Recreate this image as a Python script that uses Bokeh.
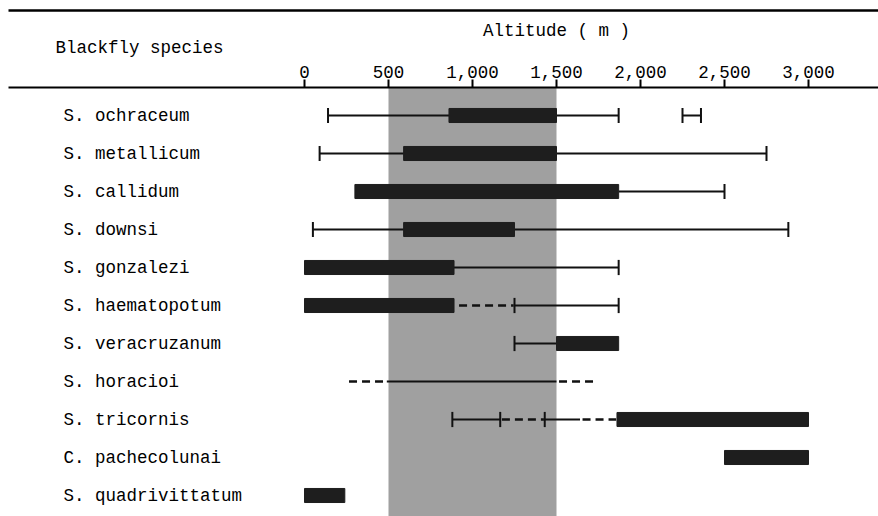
from bokeh.plotting import figure
from bokeh.models import Range1d, BoxAnnotation
from bokeh.core.properties import value
from bokeh.embed import file_html
from bokeh.resources import INLINE

# ---------------- data ----------------
SPECIES = ["S. ochraceum", "S. metallicum", "S. callidum", "S. downsi",
           "S. gonzalezi", "S. haematopotum", "S. veracruzanum", "S. horacioi",
           "S. tricornis", "C. pachecolunai", "S. quadrivittatum"]

TICKS = [0, 500, 1000, 1500, 2000, 2500, 3000]
TICK_LABELS = ["0", "500", "1,000", "1,500", "2,000", "2,500", "3,000"]

ZONE_START = 500
ZONE_END = 1500

# thick bars (main altitude range)
BAR_SPECIES = ["S. ochraceum", "S. metallicum", "S. callidum", "S. downsi",
               "S. gonzalezi", "S. haematopotum", "S. veracruzanum",
               "S. tricornis", "C. pachecolunai", "S. quadrivittatum"]
BAR_START = [860, 590, 300, 590, 0, 0, 1500, 1860, 2500, 0]
BAR_END = [1500, 1500, 1870, 1250, 890, 890, 1870, 3000, 3000, 240]

# thin solid lines
SOLID_SPECIES = ["S. ochraceum", "S. ochraceum", "S. metallicum", "S. callidum",
                 "S. downsi", "S. gonzalezi", "S. haematopotum", "S. veracruzanum",
                 "S. horacioi", "S. tricornis", "S. tricornis"]
SOLID_START = [140, 2250, 90, 1870, 50, 890, 1250, 1250, 490, 880, 1430]
SOLID_END = [1870, 2360, 2750, 2500, 2880, 1870, 1870, 1500, 1500, 1165, 1640]

# dashed lines
DASH_SPECIES = ["S. haematopotum", "S. horacioi", "S. horacioi",
                "S. tricornis", "S. tricornis"]
DASH_START = [920, 265, 1515, 1175, 1655]
DASH_END = [1245, 480, 1720, 1425, 1855]

# end caps
CAP_SPECIES = ["S. ochraceum", "S. ochraceum", "S. ochraceum", "S. ochraceum",
               "S. metallicum", "S. metallicum", "S. callidum", "S. downsi",
               "S. downsi", "S. gonzalezi", "S. haematopotum", "S. haematopotum",
               "S. veracruzanum", "S. tricornis", "S. tricornis", "S. tricornis"]
CAP_X = [140, 1870, 2250, 2360, 90, 2750, 2500, 50, 2880, 1870, 1250, 1870,
         1250, 880, 1165, 1430]

HEADER_LEFT = "Blackfly species"
HEADER_AXIS = "Altitude ( m )"

# ---------------- layout (pixels) ----------------
FONT = "Liberation Mono"
FS = "17.5px"
W, H = 878, 516
PX_PER_M = 0.168
ZERO_PX = 304          # pixel x of altitude 0
ROW0_PX = 115          # pixel y of first row
ROW_PX = 38            # row spacing


def mx(px):            # pixel x -> altitude units
    return (px - ZERO_PX) / PX_PER_M


def ry(py):            # pixel y -> row units
    return (py - ROW0_PX) / ROW_PX


p = figure(width=W, height=H, output_backend="svg", toolbar_location=None,
           x_range=Range1d(mx(0), mx(W)), y_range=Range1d(ry(H), ry(0)),
           x_axis_location=None, y_axis_location=None,
           min_border_left=0, min_border_right=0, min_border_top=0,
           min_border_bottom=0)
for g in p.grid:
    g.visible = False
p.outline_line_color = None
p.background_fill_color = "white"
p.border_fill_color = "white"

idx = {s: i for i, s in enumerate(SPECIES)}

RULE_TOP = ry(10)
RULE_AXIS = ry(87)

# shaded altitude zone (below header rule)
p.add_layout(BoxAnnotation(left=ZONE_START, right=ZONE_END, top=RULE_AXIS,
                           fill_color="#a0a0a0", fill_alpha=1.0,
                           line_color=None, level="underlay"))

# header rules
p.segment(x0=[mx(8), mx(8)], y0=[RULE_TOP, RULE_AXIS],
          x1=[mx(W), mx(W)], y1=[RULE_TOP, RULE_AXIS],
          line_color="black", line_width=[2.5, 2.2])

# axis ticks (upwards from the rule) and tick labels
p.segment(x0=TICKS, y0=[RULE_AXIS] * len(TICKS), x1=TICKS,
          y1=[ry(79)] * len(TICKS), line_color="black", line_width=2)
p.text(x=TICKS, y=[ry(71)] * len(TICKS), text=TICK_LABELS,
       text_font=value(FONT), text_font_size=FS, text_align="center",
       text_baseline="middle", text_color="black")

# header texts
p.text(x=[(TICKS[0] + TICKS[-1]) / 2], y=[ry(30)], text=[HEADER_AXIS],
       text_font=value(FONT), text_font_size=FS, text_align="center",
       text_baseline="middle", text_color="black")
p.text(x=[mx(55)], y=[ry(47)], text=[HEADER_LEFT],
       text_font=value(FONT), text_font_size=FS, text_align="left",
       text_baseline="middle", text_color="black")

# species labels
p.text(x=[mx(63)] * len(SPECIES), y=list(range(len(SPECIES))), text=SPECIES,
       text_font=value(FONT), text_font_size=FS, text_baseline="middle",
       text_align="left", text_color="black")

# thin solid lines
sy = [idx[s] for s in SOLID_SPECIES]
p.segment(x0=SOLID_START, y0=sy, x1=SOLID_END, y1=sy, line_color="#111111",
          line_width=1.8)

# dashed lines
dy = [idx[s] for s in DASH_SPECIES]
p.segment(x0=DASH_START, y0=dy, x1=DASH_END, y1=dy, line_color="#111111",
          line_width=2.5, line_dash="8 5")

# caps
cy = [idx[s] for s in CAP_SPECIES]
p.segment(x0=CAP_X, y0=[c - 0.2 for c in cy], x1=CAP_X, y1=[c + 0.2 for c in cy],
          line_color="#111111", line_width=2)

# bars
by = [idx[s] for s in BAR_SPECIES]
p.hbar(y=by, left=BAR_START, right=BAR_END, height=0.37, fill_color="#1e1e1e",
       line_color="#1e1e1e")

open("out.html", "w").write(file_html(p, INLINE))
